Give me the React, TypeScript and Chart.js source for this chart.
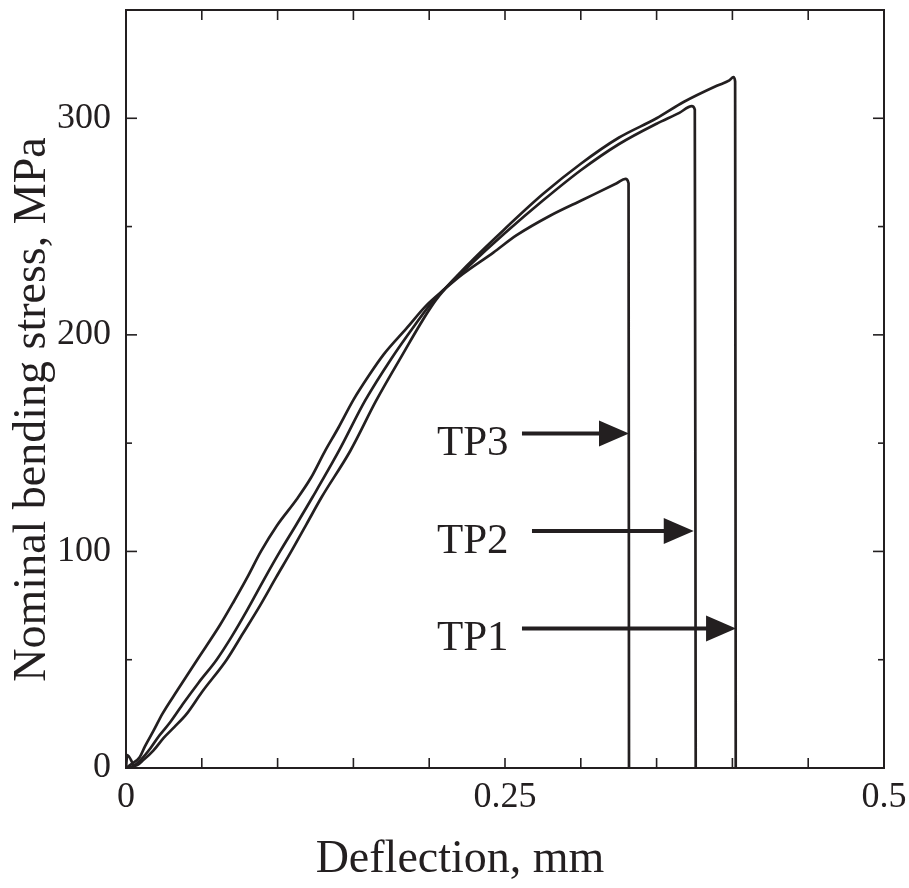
import React, { useEffect, useRef } from 'react';
import { Chart, registerables } from 'chart.js';

Chart.register(...registerables);

const INK = '#231f20';
const FONT = '"Liberation Serif", "Times New Roman", Times, serif';

// Axis tick labels
const xTickLabels = [0, 0.25, 0.5];
const yTickLabels = [0, 100, 200, 300];

// TP1: deflection (mm) and nominal bending stress (MPa)
const tp1Deflection = [0, 0.0008, 0.006, 0.012, 0.018, 0.025, 0.032, 0.040, 0.050, 0.0664, 0.077, 0.0884, 0.099, 0.109, 0.119, 0.129, 0.148, 0.165, 0.180, 0.204, 0.225, 0.25, 0.275, 0.3, 0.325, 0.35, 0.3678, 0.3897, 0.398, 0.4007, 0.4018, 0.4022];
const tp1Stress = [0, 6, 1, 4, 8, 14, 19, 25, 35, 50, 62, 75, 88, 100, 112.5, 125, 146.5, 169.6, 188, 215.7, 232, 249, 265, 279, 291, 300, 307.5, 315, 317.5, 319, 317, 0];

// TP2
const tp2Deflection = [0, 0.005, 0.010, 0.016, 0.022, 0.029, 0.038, 0.048, 0.0598, 0.070, 0.080, 0.091, 0.1016, 0.112, 0.123, 0.1405, 0.1577, 0.175, 0.190, 0.2026, 0.225, 0.25, 0.275, 0.3, 0.325, 0.35, 0.365, 0.3732, 0.3752, 0.3758];
const tp2Stress = [0, 1, 4, 9, 15, 21, 30, 39.5, 50, 61, 73, 87, 100, 112, 125, 146.5, 169.6, 189, 204, 215.7, 231, 247, 262, 276, 288, 297.5, 302.5, 305.6, 304, 0];

// TP3
const tp3Deflection = [0, 0.004, 0.009, 0.0125, 0.018, 0.024, 0.034, 0.047, 0.062, 0.0712, 0.080, 0.089, 0.0996, 0.1125, 0.122, 0.131, 0.140, 0.150, 0.160, 0.170, 0.185, 0.198, 0.210, 0.222, 0.2423, 0.2577, 0.2797, 0.3017, 0.3237, 0.3295, 0.3315, 0.3318];
const tp3Stress = [0, 2, 5, 10, 17, 25, 36, 50, 66, 77, 88, 100, 112, 124, 134, 146, 157, 170, 181, 191, 203, 213.5, 221, 228, 238, 246, 255, 262.5, 270, 272, 270, 0];

// Arrow annotations
const arrowLabels = ['TP3', 'TP2', 'TP1'];
const arrowStress = [154.5, 109.4, 64.4];
const arrowFrom = [0.2612, 0.2678, 0.2612];
const arrowTo = [0.3318, 0.3745, 0.4024];
const arrowLabelDeflection = 0.2051;

const toPoints = (xs: number[], ys: number[]) => xs.map((v, i) => ({ x: v, y: ys[i] }));

const decorPlugin = {
  id: 'decor',
  afterDatasetsDraw(chart: any) {
    const { ctx, chartArea: a, scales } = chart;
    const x = scales.x;
    const y = scales.y;
    ctx.save();
    ctx.strokeStyle = INK;
    ctx.fillStyle = INK;
    ctx.lineCap = 'butt';

    // frame
    ctx.lineWidth = 2;
    ctx.strokeRect(a.left, a.top, a.right - a.left, a.bottom - a.top);

    // inward ticks
    ctx.lineWidth = 1.6;
    const seg = (x0: number, y0: number, x1: number, y1: number) => {
      ctx.beginPath();
      ctx.moveTo(x0, y0);
      ctx.lineTo(x1, y1);
      ctx.stroke();
    };
    x.ticks.forEach((t: any) => {
      const px = x.getPixelForValue(t.value);
      seg(px, a.bottom, px, a.bottom - 10);
      seg(px, a.top, px, a.top + 10);
    });
    y.ticks.forEach((t: any) => {
      const py = y.getPixelForValue(t.value);
      const len = Math.round(t.value) % 100 === 0 ? 11 : 6;
      seg(a.left, py, a.left + len, py);
      seg(a.right, py, a.right - len, py);
    });

    // arrows and labels
    arrowLabels.forEach((lab, i) => {
      const py = y.getPixelForValue(arrowStress[i]);
      const x0 = x.getPixelForValue(arrowFrom[i]);
      const x1 = x.getPixelForValue(arrowTo[i]);
      ctx.lineWidth = 4;
      seg(x0, py, x1 - 26, py);
      ctx.beginPath();
      ctx.moveTo(x1, py);
      ctx.lineTo(x1 - 30, py - 13);
      ctx.lineTo(x1 - 30, py + 13);
      ctx.closePath();
      ctx.fill();
      ctx.font = `43px ${FONT}`;
      ctx.textAlign = 'left';
      ctx.textBaseline = 'alphabetic';
      ctx.fillText(lab, x.getPixelForValue(arrowLabelDeflection), py + 21.5);
    });

    // axis titles
    ctx.font = `46px ${FONT}`;
    ctx.textAlign = 'center';
    ctx.textBaseline = 'alphabetic';
    ctx.fillText('Deflection, mm', 460, 872);
    ctx.save();
    ctx.translate(45, 409.5);
    ctx.rotate(-Math.PI / 2);
    ctx.fillText('Nominal bending stress, MPa', 0, 0);
    ctx.restore();

    ctx.restore();
  },
};

function lineDataset(label: string, xs: number[], ys: number[]) {
  return {
    label,
    data: toPoints(xs, ys),
    borderColor: INK,
    backgroundColor: INK,
    borderWidth: 2.7,
    pointRadius: 0,
    cubicInterpolationMode: 'monotone',
    showLine: true,
    fill: false,
  };
}

export default function App() {
  const ref = useRef<HTMLCanvasElement | null>(null);

  useEffect(() => {
    if (!ref.current) return;
    const chart = new Chart(ref.current, {
      type: 'scatter',
      data: {
        datasets: [
          lineDataset('TP1', tp1Deflection, tp1Stress),
          lineDataset('TP2', tp2Deflection, tp2Stress),
          lineDataset('TP3', tp3Deflection, tp3Stress),
        ],
      },
      options: {
        animation: false,
        responsive: false,
        maintainAspectRatio: false,
        layout: { padding: { left: 0, top: 10, right: 25, bottom: 0 }, autoPadding: false },
        plugins: { legend: { display: false }, tooltip: { enabled: false } },
        scales: {
          x: {
            type: 'linear',
            min: 0,
            max: 0.5,
            afterFit: (s: any) => {
              s.height = 120;
              s.paddingLeft = 0;
              s.paddingRight = 0;
              s.paddingTop = 0;
              s.paddingBottom = 0;
            },
            grid: { display: false, drawTicks: false },
            border: { display: false },
            ticks: {
              stepSize: 0.05,
              autoSkip: false,
              maxRotation: 0,
              padding: 8,
              color: INK,
              font: { family: FONT, size: 36 },
              callback: (v: any) => {
                const n = Number(v);
                const hit = xTickLabels.find((t) => Math.abs(t - n) < 1e-6);
                return hit === undefined ? '' : String(hit);
              },
            },
          },
          y: {
            type: 'linear',
            min: 0,
            max: 350,
            afterFit: (s: any) => {
              s.width = 126;
              s.paddingLeft = 0;
              s.paddingRight = 0;
              s.paddingTop = 0;
              s.paddingBottom = 0;
            },
            grid: { display: false, drawTicks: false },
            border: { display: false },
            ticks: {
              stepSize: 50,
              autoSkip: false,
              padding: 15,
              color: INK,
              font: { family: FONT, size: 36 },
              callback: (v: any) => {
                const n = Number(v);
                const hit = yTickLabels.find((t) => Math.abs(t - n) < 1e-6);
                return hit === undefined ? '' : String(hit);
              },
            },
          },
        },
      } as any,
      plugins: [decorPlugin],
    });
    return () => chart.destroy();
  }, []);

  return (
    <div style={{ position: 'absolute', left: 0, top: 0, width: 909, height: 888, background: '#fff' }}>
      <canvas ref={ref} width={909} height={888} style={{ display: 'block', width: 909, height: 888 }} />
    </div>
  );
}
